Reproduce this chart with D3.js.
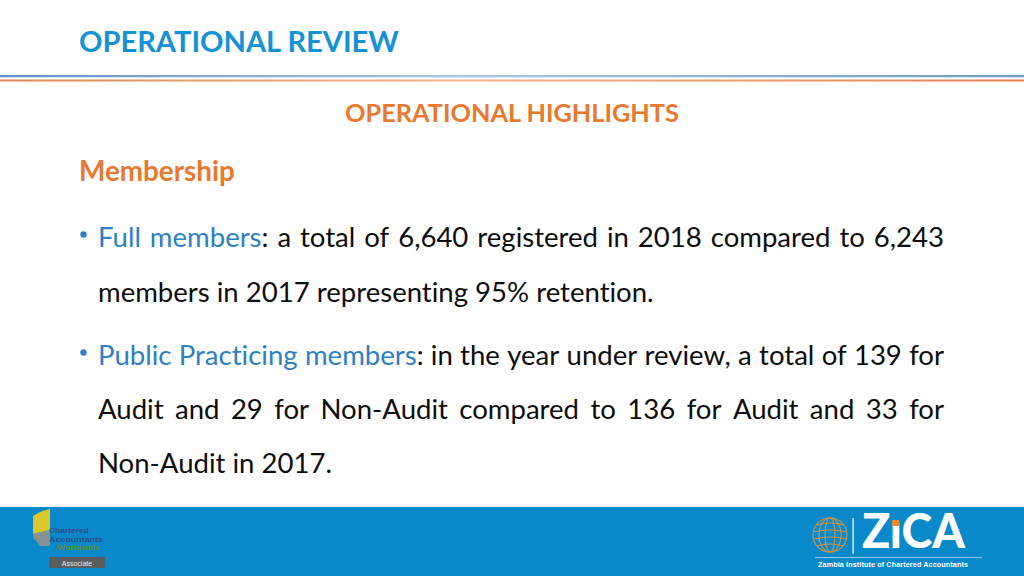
<!DOCTYPE html>
<html><head><meta charset="utf-8">
<script src="https://cdn.jsdelivr.net/npm/d3@7"></script>
<style>body{margin:0;background:#fff}svg{display:block}</style>
</head><body>
<svg id="c" width="1024" height="576"></svg>
<script>
// ---- data ----
const years = [2018, 2017];
const fullMembers = [6640, 6243];
const retentionPct = [95];
const auditMembers = [139, 136];
const nonAuditMembers = [29, 33];
const headings = ["OPERATIONAL REVIEW", "OPERATIONAL HIGHLIGHTS", "Membership"];
const terms = ["Full members", "Public Practicing members"];

const fmt = d3.format(",");
const C = {title:"#1592D6", orange:"#E8792F", term:"#2D7FC6", body:"#0D0D0D", band:"#0A89CA"};
const FONT = "Lato, 'Open Sans', sans-serif";
const svg = d3.select("#c");
const W = 1024, H = 576;

function measure(txt, size, weight){
  const t = svg.append("text").attr("font-family",FONT).attr("font-size",size)
    .attr("font-weight",weight).text(txt);
  const w = t.node().getComputedTextLength(); t.remove(); return w;
}
function fitSize(txt, target, weight){ return 100*target/measure(txt,100,weight); }

// ---- header ----
const grad = svg.append("defs");
const gb = grad.append("linearGradient").attr("id","gb");
gb.append("stop").attr("offset","0%").attr("stop-color","#5E92C6");
gb.append("stop").attr("offset","45%").attr("stop-color","#A9C9EA");
gb.append("stop").attr("offset","100%").attr("stop-color","#6A9EC4");
const go = grad.append("linearGradient").attr("id","go");
go.append("stop").attr("offset","0%").attr("stop-color","#E08A52");
go.append("stop").attr("offset","45%").attr("stop-color","#F2B58C");
go.append("stop").attr("offset","100%").attr("stop-color","#E8804A");
svg.append("rect").attr("x",0).attr("y",75).attr("width",W).attr("height",2).attr("fill","url(#gb)");
svg.append("rect").attr("x",0).attr("y",77).attr("width",W).attr("height",1).attr("fill","#DCEBF8");
svg.append("rect").attr("x",0).attr("y",79.5).attr("width",W).attr("height",2).attr("fill","url(#go)");

svg.append("text").attr("x",79).attr("y",52).attr("font-family",FONT).attr("font-weight",700)
  .attr("font-size",fitSize(headings[0],320,700)).attr("fill",C.title).text(headings[0]);
svg.append("text").attr("x",512).attr("y",122).attr("text-anchor","middle").attr("font-family",FONT)
  .attr("font-weight",700).attr("font-size",fitSize(headings[1],334,700)).attr("fill",C.orange).text(headings[1]);
svg.append("text").attr("x",79).attr("y",181).attr("font-family",FONT).attr("font-weight",700)
  .attr("font-size",fitSize(headings[2],156,700)).attr("fill",C.orange).text(headings[2]);

// ---- body ----
const B = (t)=>({t, c:C.body}), T=(t)=>({t, c:C.term});
function words(str){ return str.split(" ").map(w=>[B(w)]); }
function termWords(term, tail){ // term words blue, tail begins with ':'
  const tw = term.split(" ").map(w=>[T(w)]);
  const rest = tail.split(" ");
  tw[tw.length-1].push(B(rest[0]));
  return tw.concat(rest.slice(1).map(w=>[B(w)]));
}
const lines = [
  {y:247, bullet:true, justify:true,
   w: termWords(terms[0], `: a total of ${fmt(fullMembers[0])} registered in ${years[0]} compared to ${fmt(fullMembers[1])}`)},
  {y:302, justify:false, w: words(`members in ${years[1]} representing ${retentionPct[0]}% retention.`)},
  {y:365, bullet:true, justify:true,
   w: termWords(terms[1], `: in the year under review, a total of ${auditMembers[0]} for`)},
  {y:419, justify:true, w: words(`Audit and ${nonAuditMembers[0]} for Non-Audit compared to ${auditMembers[1]} for Audit and ${nonAuditMembers[1]} for`)},
  {y:473, justify:false, w: words(`Non-Audit in ${years[1]}.`)}
];
const bodySize = fitSize(`members in ${years[1]} representing ${retentionPct[0]}% retention.`, 557, 400);
const X0 = 98, X1 = 944;
lines.forEach(L=>{
  if(L.bullet) svg.append("circle").attr("cx",83.5).attr("cy",L.y-12.5).attr("r",3.2).attr("fill",C.term);
  const nodes = L.w.map(parts=>{
    const t = svg.append("text").attr("y",L.y).attr("font-family",FONT).attr("font-size",bodySize)
      .style("font-variant-ligatures","none");
    parts.forEach(p=>t.append("tspan").attr("fill",p.c).text(p.t));
    return t;
  });
  const ws = nodes.map(n=>n.node().getComputedTextLength());
  const space = measure("a b",bodySize,400)-measure("ab",bodySize,400);
  const gap = L.justify ? (X1-X0-d3.sum(ws))/(ws.length-1) : space;
  let x = X0;
  nodes.forEach((n,i)=>{ n.attr("x",x); x += ws[i]+gap; });
});

// ---- footer band ----
svg.append("rect").attr("x",0).attr("y",507).attr("width",W).attr("height",H-507).attr("fill",C.band);

// left logo
svg.append("path").attr("d","M33,516 Q40,511 50,509 L50,530 L33,534 Z").attr("fill","#D9C82A");
svg.append("path").attr("d","M33,534 L50,530 L50,546 L40,546 Q36,540 33,538 Z").attr("fill","#8A8F93");
const ll = svg.append("g").attr("font-family","'Liberation Sans', Arial, sans-serif").attr("font-size",7).attr("font-weight",700);
ll.append("text").attr("x",49).attr("y",533).attr("fill","#2E4F86").attr("textLength",40).attr("lengthAdjust","spacingAndGlyphs").text("Chartered");
ll.append("text").attr("x",49).attr("y",541.5).attr("fill","#2E4F86").attr("textLength",54).attr("lengthAdjust","spacingAndGlyphs").text("Accountants");
ll.append("text").attr("x",57).attr("y",550).attr("fill","#5E8E2E").attr("textLength",43).attr("lengthAdjust","spacingAndGlyphs").text("Worldwide");
svg.append("rect").attr("x",49).attr("y",557).attr("width",56).attr("height",11).attr("fill","#5A5C60");
svg.append("text").attr("x",77).attr("y",565.5).attr("text-anchor","middle").attr("font-family","'Liberation Sans', Arial, sans-serif")
  .attr("font-size",7).attr("fill","#E8E8E8").text("Associate");

// right logo: globe
const gl = svg.append("g").attr("fill","none").attr("stroke","#C9954A").attr("stroke-width",1.1);
gl.append("circle").attr("cx",830).attr("cy",535).attr("r",17);
[5,11].forEach(rx=>gl.append("ellipse").attr("cx",830).attr("cy",535).attr("rx",rx).attr("ry",17));
[-10,-3,4,11].forEach(dy=>{
  const hw = Math.sqrt(17*17-dy*dy);
  gl.append("path").attr("d",`M${830-hw},${535+dy} Q830,${535+dy-4} ${830+hw},${535+dy}`);
});
svg.append("rect").attr("x",852.5).attr("y",518).attr("width",1.2).attr("height",36).attr("fill","#FFFFFF");
const z = svg.append("text").attr("x",862).attr("y",548).attr("font-family","Lato, 'DejaVu Sans', sans-serif")
  .attr("font-weight",900).attr("fill","#FFFFFF").text("Z\u0131CA");
z.attr("font-size", 100*103/measure("Z\u0131CA",100,900));
try{
  const e = z.node().getExtentOfChar(1);
  svg.append("rect").attr("x",e.x+e.width/2-3.5).attr("y",520).attr("width",7).attr("height",6).attr("fill","#F08A24");
}catch(err){}
svg.append("rect").attr("x",815).attr("y",557).attr("width",167).attr("height",1).attr("fill","#8FC8EA");
svg.append("text").attr("x",818).attr("y",566.5).attr("font-family","'Liberation Sans', Arial, sans-serif")
  .attr("font-weight",700).attr("font-size",7.2).attr("fill","#FFFFFF")
  .attr("textLength",150).text("Zambia Institute of Chartered Accountants");
</script>
</body></html>
